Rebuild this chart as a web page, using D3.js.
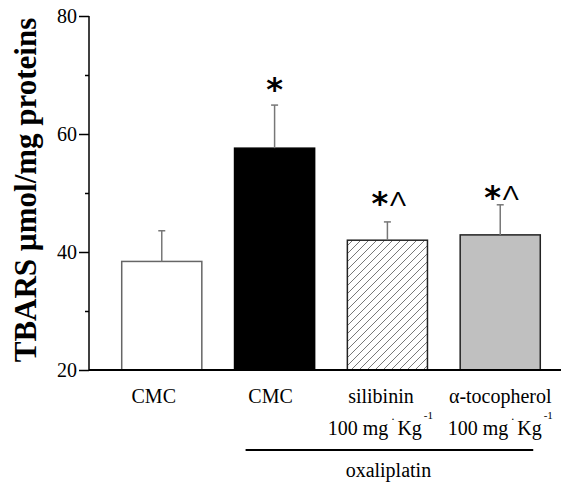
<!DOCTYPE html>
<html>
<head>
<meta charset="utf-8">
<script src="https://cdn.jsdelivr.net/npm/d3@7"></script>
<style>
  body { margin: 0; background: #fff; }
  text { font-family: "Liberation Serif", "Times New Roman", Times, serif; }
</style>
</head>
<body>
<div id="canvas"></div>
<script>
// values
var groups = ['g1', 'g2', 'g3', 'g4'];
var labelTop = ['CMC', 'CMC', 'silibinin', '\u03b1-tocopherol'];
var labelDose = ['', '', '100 mg', '100 mg'];
var means = [38.4, 57.6, 42.0, 42.9];
var sems = [5.2, 7.3, 3.1, 5.1];
var stars = ['', '*', '*', '*'];
var carets = ['', '', '\u039b', '\u039b'];
var markAt = [0, 68.0, 48.8, 49.8];   // height (in y units) of the significance marks
var yTicks = [20, 40, 60, 80];
var yMinor = [30, 50, 70];
var yTitle = 'TBARS \u00b5mol/mg proteins';
var groupTitle = 'oxaliplatin';

var W = 561, H = 487;
var margin = { left: 89, top: 16, right: 0, bottom: 117 };
var innerH = H - margin.top - margin.bottom;

var svg = d3.select('#canvas').append('svg')
  .attr('width', W).attr('height', H);

var defs = svg.append('defs');
defs.append('pattern')
  .attr('id', 'hatch')
  .attr('patternUnits', 'userSpaceOnUse')
  .attr('width', 8).attr('height', 8)
  .append('path')
  .attr('d', 'M-2,2 L2,-2 M0,8 L8,0 M6,10 L10,6')
  .attr('stroke', '#555').attr('stroke-width', 0.8);

var x = d3.scaleBand().domain(groups).range([0, 484]).padding(0.29);
var y = d3.scaleLinear().domain([20, 80]).range([innerH, 0]);

var g = svg.append('g')
  .attr('transform', 'translate(' + margin.left + ',' + margin.top + ')');

var fills = ['#fff', '#000', 'url(#hatch)', '#c0c0c0'];
var strokes = ['#666', '#000', '#222', '#222'];

// bars
g.selectAll('rect.bar')
  .data(means)
  .enter()
  .append('rect')
  .attr('class', 'bar')
  .attr('x', (d, i) => x(groups[i]))
  .attr('y', d => y(d))
  .attr('width', x.bandwidth())
  .attr('height', d => innerH - y(d))
  .attr('fill', (d, i) => fills[i])
  .attr('stroke', (d, i) => strokes[i])
  .attr('stroke-width', 1.5);

// error bars (upper only)
var eb = g.selectAll('g.err')
  .data(means)
  .enter()
  .append('g')
  .attr('class', 'err')
  .attr('transform', (d, i) => 'translate(' + (x(groups[i]) + x.bandwidth() / 2) + ',0)');
eb.append('line')
  .attr('x1', 0).attr('x2', 0)
  .attr('y1', d => y(d))
  .attr('y2', (d, i) => y(d + sems[i]))
  .attr('stroke', '#777').attr('stroke-width', 1.5);
eb.append('line')
  .attr('x1', -3.5).attr('x2', 3.5)
  .attr('y1', (d, i) => y(d + sems[i]))
  .attr('y2', (d, i) => y(d + sems[i]))
  .attr('stroke', '#777').attr('stroke-width', 1.5);

// significance marks
eb.append('text')
  .attr('x', (d, i) => carets[i] ? -7.5 : 0)
  .attr('y', (d, i) => y(markAt[i]))
  .attr('dy', '0.42em')
  .attr('text-anchor', 'middle')
  .style('font-family', '"DejaVu Sans", sans-serif')
  .style('font-weight', 'bold')
  .style('font-size', '32px')
  .text((d, i) => stars[i]);
eb.filter((d, i) => carets[i] !== '')
  .append('text')
  .attr('x', 2.5)
  .attr('y', d => y(markAt[means.indexOf(d)]) + 6)
  .attr('textLength', 16)
  .attr('lengthAdjust', 'spacingAndGlyphs')
  .style('font-family', '"Liberation Sans", sans-serif')
  .style('font-size', '20px')
  .text(d => carets[means.indexOf(d)]);

// y axis
var yAxis = g.append('g')
  .call(d3.axisLeft(y).tickValues(yTicks).tickSize(10).tickPadding(2).tickFormat(d3.format('d')));
yAxis.select('.domain').attr('d', 'M0,' + y(80) + 'V' + y(20)).attr('stroke-width', 1.5);
yAxis.selectAll('line').attr('stroke-width', 1.5);
yAxis.selectAll('text').style('font-size', '20px').style('font-family', '"Liberation Serif", serif');
g.append('g')
  .call(d3.axisLeft(y).tickValues(yMinor).tickSize(4).tickFormat(''))
  .call(s => s.select('.domain').remove())
  .selectAll('line').attr('stroke-width', 1.5);

// bottom axis line
g.append('line')
  .attr('x1', 0).attr('x2', W - margin.left)
  .attr('y1', innerH).attr('y2', innerH)
  .attr('stroke', '#000').attr('stroke-width', 2);

// category labels
var shiftTop = [-8, -4, -6.5, 0];
var shiftDose = [0, 0, -7, 0];
var lab = g.selectAll('g.lab')
  .data(groups)
  .enter()
  .append('g')
  .attr('class', 'lab')
  .attr('transform', d => 'translate(' + (x(d) + x.bandwidth() / 2) + ',' + innerH + ')');
lab.append('text')
  .attr('x', (d, i) => shiftTop[i])
  .attr('y', 33)
  .attr('text-anchor', 'middle')
  .style('font-size', '20px')
  .text((d, i) => labelTop[i]);
var dose = lab.filter((d, i) => labelDose[i] !== '')
  .append('text')
  .attr('x', d => shiftDose[groups.indexOf(d)])
  .attr('y', 65)
  .attr('text-anchor', 'middle')
  .style('font-size', '20px');
dose.append('tspan').text(d => labelDose[groups.indexOf(d)]);
dose.append('tspan').attr('dy', -15).attr('dx', 3).style('font-size', '12px').text('.');
dose.append('tspan').attr('dy', 15).attr('dx', 3).text('Kg');
dose.append('tspan').attr('dy', -16).attr('dx', 2).style('font-size', '11px').text('-1');

// group bracket
var x0 = x(groups[1]) + x.bandwidth() / 2 - 29;
var x1 = x(groups[3]) + x.bandwidth() / 2 + 33;
g.append('line')
  .attr('x1', x0).attr('x2', x1)
  .attr('y1', innerH + 80).attr('y2', innerH + 80)
  .attr('stroke', '#000').attr('stroke-width', 2);
g.append('text')
  .attr('x', (x0 + x1) / 2 - 1)
  .attr('y', innerH + 107)
  .attr('text-anchor', 'middle')
  .style('font-size', '20px')
  .text(groupTitle);

// y title
svg.append('text')
  .attr('transform', 'translate(36,190) rotate(-90)')
  .attr('text-anchor', 'middle')
  .style('font-size', '31px')
  .style('font-weight', 'bold')
  .text(yTitle);
</script>
</body>
</html>
